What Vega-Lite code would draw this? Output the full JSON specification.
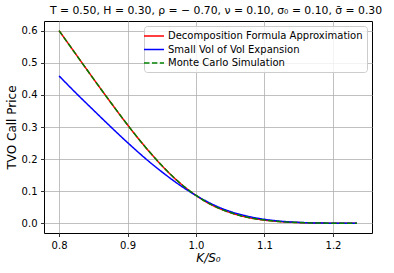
{
  "$schema": "https://vega.github.io/schema/vega-lite/v6.json",
  "width": 328,
  "height": 212,
  "autosize": {"type": "none"},
  "padding": {"left": 44, "top": 21, "right": 22, "bottom": 40},
  "background": "white",
  "title": {
    "text": "T = 0.50, H = 0.30, ρ = − 0.70, ν = 0.10, σ₀ = 0.10, σ̄ = 0.30",
    "font": "DejaVu Sans",
    "fontSize": 10.8,
    "fontWeight": "normal",
    "color": "black",
    "anchor": "middle",
    "dx": 8,
    "offset": 5
  },
  "config": {
    "view": {"stroke": "black", "strokeWidth": 1},
    "axis": {
      "labelFont": "DejaVu Sans",
      "labelFontSize": 10,
      "labelColor": "black",
      "titleFont": "DejaVu Sans",
      "titleFontSize": 12,
      "titleFontWeight": "normal",
      "titleColor": "black",
      "tickColor": "black",
      "tickSize": 3.5,
      "tickWidth": 0.8,
      "gridColor": "#b0b0b0",
      "gridWidth": 0.8,
      "domain": false,
      "labelPadding": 3.5
    },
    "legend": {
      "labelFont": "DejaVu Sans",
      "labelFontSize": 10,
      "labelColor": "black"
    }
  },
  "data": {
    "values": [
      {"series": "Decomposition Formula Approximation", "k": 0.8, "price": 0.6001},
      {"series": "Decomposition Formula Approximation", "k": 0.825, "price": 0.5252},
      {"series": "Decomposition Formula Approximation", "k": 0.85, "price": 0.4508},
      {"series": "Decomposition Formula Approximation", "k": 0.875, "price": 0.3776},
      {"series": "Decomposition Formula Approximation", "k": 0.9, "price": 0.3065},
      {"series": "Decomposition Formula Approximation", "k": 0.925, "price": 0.24},
      {"series": "Decomposition Formula Approximation", "k": 0.95, "price": 0.18},
      {"series": "Decomposition Formula Approximation", "k": 0.975, "price": 0.1283},
      {"series": "Decomposition Formula Approximation", "k": 1.0, "price": 0.0868},
      {"series": "Decomposition Formula Approximation", "k": 1.025, "price": 0.0551},
      {"series": "Decomposition Formula Approximation", "k": 1.05, "price": 0.0334},
      {"series": "Decomposition Formula Approximation", "k": 1.075, "price": 0.0186},
      {"series": "Decomposition Formula Approximation", "k": 1.1, "price": 0.0101},
      {"series": "Decomposition Formula Approximation", "k": 1.125, "price": 0.005},
      {"series": "Decomposition Formula Approximation", "k": 1.15, "price": 0.0024},
      {"series": "Decomposition Formula Approximation", "k": 1.175, "price": 0.0011},
      {"series": "Decomposition Formula Approximation", "k": 1.2, "price": 0.0005},
      {"series": "Decomposition Formula Approximation", "k": 1.225, "price": 0.0002},
      {"series": "Decomposition Formula Approximation", "k": 1.235, "price": 0.0001},
      {"series": "Small Vol of Vol Expansion", "k": 0.8, "price": 0.459},
      {"series": "Small Vol of Vol Expansion", "k": 0.825, "price": 0.405},
      {"series": "Small Vol of Vol Expansion", "k": 0.85, "price": 0.353},
      {"series": "Small Vol of Vol Expansion", "k": 0.875, "price": 0.3015},
      {"series": "Small Vol of Vol Expansion", "k": 0.9, "price": 0.2515},
      {"series": "Small Vol of Vol Expansion", "k": 0.925, "price": 0.204},
      {"series": "Small Vol of Vol Expansion", "k": 0.95, "price": 0.1605},
      {"series": "Small Vol of Vol Expansion", "k": 0.975, "price": 0.121},
      {"series": "Small Vol of Vol Expansion", "k": 1.0, "price": 0.087},
      {"series": "Small Vol of Vol Expansion", "k": 1.025, "price": 0.0585},
      {"series": "Small Vol of Vol Expansion", "k": 1.05, "price": 0.037},
      {"series": "Small Vol of Vol Expansion", "k": 1.075, "price": 0.0225},
      {"series": "Small Vol of Vol Expansion", "k": 1.1, "price": 0.0125},
      {"series": "Small Vol of Vol Expansion", "k": 1.125, "price": 0.0065},
      {"series": "Small Vol of Vol Expansion", "k": 1.15, "price": 0.003},
      {"series": "Small Vol of Vol Expansion", "k": 1.175, "price": 0.0013},
      {"series": "Small Vol of Vol Expansion", "k": 1.2, "price": 0.0005},
      {"series": "Small Vol of Vol Expansion", "k": 1.225, "price": 0.0002},
      {"series": "Small Vol of Vol Expansion", "k": 1.235, "price": 0.0001},
      {"series": "Monte Carlo Simulation", "k": 0.8, "price": 0.6},
      {"series": "Monte Carlo Simulation", "k": 0.825, "price": 0.5251},
      {"series": "Monte Carlo Simulation", "k": 0.85, "price": 0.4507},
      {"series": "Monte Carlo Simulation", "k": 0.875, "price": 0.3777},
      {"series": "Monte Carlo Simulation", "k": 0.9, "price": 0.3066},
      {"series": "Monte Carlo Simulation", "k": 0.925, "price": 0.2402},
      {"series": "Monte Carlo Simulation", "k": 0.95, "price": 0.1801},
      {"series": "Monte Carlo Simulation", "k": 0.975, "price": 0.1285},
      {"series": "Monte Carlo Simulation", "k": 1.0, "price": 0.087},
      {"series": "Monte Carlo Simulation", "k": 1.025, "price": 0.0553},
      {"series": "Monte Carlo Simulation", "k": 1.05, "price": 0.0336},
      {"series": "Monte Carlo Simulation", "k": 1.075, "price": 0.0188},
      {"series": "Monte Carlo Simulation", "k": 1.1, "price": 0.0102},
      {"series": "Monte Carlo Simulation", "k": 1.125, "price": 0.0051},
      {"series": "Monte Carlo Simulation", "k": 1.15, "price": 0.0024},
      {"series": "Monte Carlo Simulation", "k": 1.175, "price": 0.0011},
      {"series": "Monte Carlo Simulation", "k": 1.2, "price": 0.0005},
      {"series": "Monte Carlo Simulation", "k": 1.225, "price": 0.0002},
      {"series": "Monte Carlo Simulation", "k": 1.235, "price": 0.0001}
    ]
  },
  "mark": {"type": "line", "strokeWidth": 1.5, "interpolate": "monotone"},
  "encoding": {
    "x": {
      "field": "k",
      "type": "quantitative",
      "scale": {"domain": [0.778, 1.257], "nice": false, "zero": false},
      "axis": {"values": [0.8, 0.9, 1.0, 1.1, 1.2], "format": ".1f", "title": "K/S₀", "titleFontStyle": "italic", "titlePadding": 2}
    },
    "y": {
      "field": "price",
      "type": "quantitative",
      "scale": {"domain": [-0.03, 0.63], "nice": false, "zero": false},
      "axis": {"values": [0, 0.1, 0.2, 0.3, 0.4, 0.5, 0.6], "format": ".1f", "title": "TVO Call Price", "titlePadding": 3}
    },
    "color": {
      "field": "series",
      "type": "nominal",
      "sort": ["Decomposition Formula Approximation", "Small Vol of Vol Expansion", "Monte Carlo Simulation"],
      "scale": {
        "domain": ["Decomposition Formula Approximation", "Small Vol of Vol Expansion", "Monte Carlo Simulation"],
        "range": ["#ff0000", "#0000ff", "#008000"]
      },
      "legend": {
        "title": null,
        "orient": "top-right",
        "offset": 5,
        "padding": 4,
        "fillColor": "rgba(255,255,255,0.8)",
        "strokeColor": "#cccccc",
        "cornerRadius": 3,
        "symbolType": "M-2,0H2",
        "symbolSize": 100,
        "symbolStrokeWidth": 1.5,
        "rowPadding": 2.5,
        "labelOffset": 8,
        "labelLimit": 400
      }
    },
    "strokeDash": {
      "field": "series",
      "type": "nominal",
      "sort": ["Decomposition Formula Approximation", "Small Vol of Vol Expansion", "Monte Carlo Simulation"],
      "scale": {
        "domain": ["Decomposition Formula Approximation", "Small Vol of Vol Expansion", "Monte Carlo Simulation"],
        "range": [[1, 0], [1, 0], [5.5, 2.4]]
      },
      "legend": null
    },
    "order": {"field": "k", "type": "quantitative"}
  }
}
